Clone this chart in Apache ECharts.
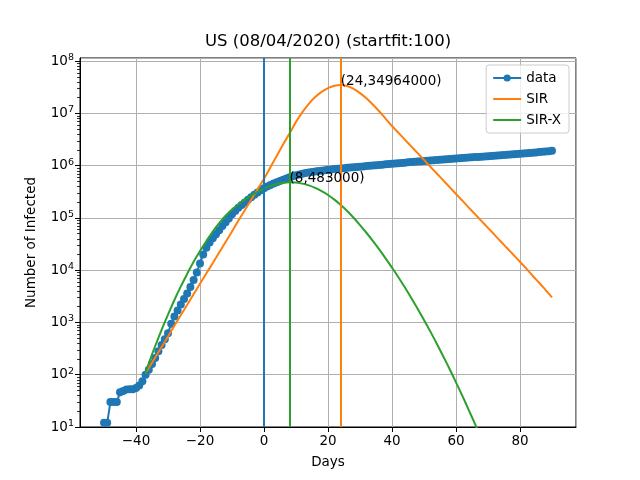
<!DOCTYPE html>
<html>
<head>
<meta charset="utf-8">
<script src="https://cdn.jsdelivr.net/npm/echarts@6/dist/echarts.min.js"></script>
<style>
  html, body { margin: 0; padding: 0; background: #fff; }
  #chart { width: 640px; height: 480px; }
</style>
</head>
<body>
<div id="chart"></div>
<script>
// 观测数据：从第 -50 天开始，每天一个点
const dataStartDay = -50
const infected = [
    12, 12, 30, 30, 30, 46, 49, 52, 53, 53,
    56, 62, 75, 100, 125, 160, 210, 280, 370, 480,
    620, 950, 1300, 1700, 2200, 2800, 3600, 4800, 6500, 9000,
    13500, 20000, 27000, 34000, 41000, 49000, 58000, 70000, 83000, 98000,
    118000, 136000, 156000, 176000, 198000, 222000, 248000, 278000, 308000, 340000,
    372000, 400000, 428000, 455000, 482000, 510000, 540000, 570000, 600000, 628000,
    655000, 680000, 702000, 722000, 740000, 757000, 773000, 788000, 803000, 818000,
    832000, 846000, 860000, 873000, 886000, 898000, 910000, 922000, 934000, 946000,
    958000, 970000, 982000, 995000, 1008000, 1021000, 1034000, 1047000, 1060000, 1074000,
    1088000, 1102000, 1116000, 1130000, 1144000, 1158000, 1172000, 1186000, 1200000, 1214000,
    1228000, 1242000, 1256000, 1270000, 1284000, 1298000, 1312000, 1326000, 1340000, 1354000,
    1369000, 1384000, 1399000, 1414000, 1429000, 1444000, 1459000, 1474000, 1490000, 1506000,
    1522000, 1538000, 1554000, 1570000, 1587000, 1604000, 1621000, 1638000, 1656000, 1674000,
    1693000, 1712000, 1732000, 1753000, 1775000, 1798000, 1822000, 1847000, 1873000, 1900000,
    1930000
]

// 拟合曲线的取样天数
const fitDays = [
    -37, -36, -34, -32, -30, -28, -26, -24, -22, -20,
    -18, -16, -14, -12, -10, -8, -6, -4, -2, 0,
    2, 4, 6, 8, 10, 12, 14, 16, 18, 20,
    22, 24, 26, 28, 30, 32, 34, 36, 38, 40,
    42, 44, 46, 48, 50, 52, 54, 56, 58, 60,
    62, 64, 66, 68, 70, 72, 74, 76, 78, 80,
    82, 84, 86, 88, 90
]
const sirValues = [
    107, 135, 214, 339, 537, 871, 1380, 2190, 3470, 5500,
    8710, 13800, 21900, 34700, 55000, 89100, 141000, 224000, 355000, 562000,
    933000, 1550000, 2570000, 4170000, 6890000, 10600000, 15300000, 20600000, 25900000, 30600000,
    33900000, 34964000, 33500000, 29500000, 24500000, 19500000, 14800000, 11000000, 7940000, 5750000,
    4270000, 3160000, 2340000, 1740000, 1290000, 955000, 708000, 525000, 389000, 288000,
    214000, 158000, 117000, 87100, 64600, 47900, 35500, 26300, 19500, 14500,
    10700, 7760, 5750, 4170, 3020
]
const sirxValues = [
    107, 166, 355, 724, 1410, 2690, 4900, 8510, 14500, 23400,
    36300, 55000, 79400, 110000, 145000, 182000, 224000, 269000, 316000, 363000,
    407000, 447000, 473000, 483000, 476000, 454000, 420000, 376000, 327000, 275000,
    224000, 177000, 136000, 101000, 73100, 52100, 36500, 25100, 16900, 11200,
    7350, 4710, 2960, 1840, 1120, 668, 393, 226, 129, 71.6,
    39.3, 21.1, 11.2, 5.8, 2.97, 1.49, 0.73, 0.36, 0.17, 0.079,
    0.036, 0.016, 0.0073, 0.0032, 0.0014
]

// 竖线与标注
const todayDay = 0
const sirPeak = [24, 34964000]
const sirxPeak = [8, 483000]

// 对数轴的次刻度 (2..9 × 10^n)
const minorTickValues = []
for (let e = 1; e <= 7; e++) {
    for (let m = 2; m <= 9; m++) minorTickValues.push(m * Math.pow(10, e))
}

const BLUE = '#1f77b4', ORANGE = '#ff7f0e', GREEN = '#2ca02c'
const FONT = 'DejaVu Sans'
const Y_MIN = 10, Y_MAX = 1.15e8

const pairs = function (xs, ys) {
    return ys.map(function (v, i) { return [xs[i], v] })
}
const dataPoints = infected.map(function (v, i) { return [dataStartDay + i, v] })

const vline = function (x, color) {
    return {
        silent: true,
        symbol: 'none',
        label: { show: false },
        lineStyle: { color: color, width: 2, type: 'solid' },
        data: [{ xAxis: x }],
        z: 5
    }
}
const peakLabel = function (p) {
    return {
        symbol: 'circle',
        symbolSize: 0,
        silent: true,
        label: {
            show: true,
            position: [0, 0],
            align: 'left',
            verticalAlign: 'bottom',
            offset: [0, 3],
            color: '#000',
            fontFamily: FONT,
            fontSize: 13.5,
            formatter: '(' + p[0] + ',' + p[1] + ')'
        },
        data: [{ coord: p }]
    }
}

let myChart = echarts.init(document.getElementById('chart'), null, { renderer: 'canvas' })
let option = {
    animation: false,
    backgroundColor: '#fff',
    title: {
        text: 'US (08/04/2020) (startfit:100)',
        left: 205,
        top: 33,
        padding: 0,
        textStyle: { fontFamily: FONT, fontSize: 16.5, fontWeight: 'normal', color: '#000' }
    },
    grid: {
        left: 80, right: 64, top: 58, bottom: 53,
        show: true, borderColor: '#000', borderWidth: 1
    },
    legend: {
        orient: 'vertical',
        right: 71,
        top: 65,
        padding: [6, 8, 6, 6],
        itemGap: 7,
        itemWidth: 28,
        itemHeight: 9,
        backgroundColor: 'rgba(255,255,255,0.8)',
        borderColor: '#cccccc',
        borderWidth: 1,
        borderRadius: 3,
        textStyle: { fontFamily: FONT, fontSize: 13.5, color: '#000' },
        data: [
            'data',
            { name: 'SIR', itemStyle: { opacity: 0 } },
            { name: 'SIR-X', itemStyle: { opacity: 0 } }
        ]
    },
    xAxis: {
        type: 'value',
        min: -57.5,
        max: 97.5,
        splitNumber: 8,
        name: 'Days',
        nameLocation: 'middle',
        nameGap: 28,
        nameTextStyle: { fontFamily: FONT, fontSize: 13.5, color: '#000' },
        axisLine: { onZero: false, lineStyle: { color: '#000', width: 1 } },
        axisTick: { show: true, length: 5, lineStyle: { color: '#000' } },
        axisLabel: {
            fontFamily: FONT, fontSize: 13.5, color: '#000', margin: 7,
            showMinLabel: false, showMaxLabel: false,
            formatter: function (v) {
                return v % 20 !== 0 ? '' : String(v).replace('-', '\u2212')
            }
        },
        splitLine: { show: true, lineStyle: { color: '#b0b0b0', width: 1 } }
    },
    yAxis: [
        {
            type: 'log',
            logBase: 10,
            min: Y_MIN,
            max: Y_MAX,
            interval: 1,
            name: 'Number of Infected',
            nameLocation: 'middle',
            nameGap: 42,
            nameTextStyle: { fontFamily: FONT, fontSize: 13.5, color: '#000' },
            axisLine: { onZero: false, lineStyle: { color: '#000', width: 1 } },
            axisTick: { show: true, length: 5, lineStyle: { color: '#000' } },
            axisLabel: {
                color: '#000', margin: 6,
                showMaxLabel: false,
                formatter: function (v) {
                    let e = Math.round(Math.log10(v))
                    if (Math.abs(Math.log10(v) - e) > 1e-6) return ''
                    return '{b|10}{s|' + e + '}'
                },
                rich: {
                    b: { fontFamily: FONT, fontSize: 13.5, color: '#000' },
                    s: { fontFamily: FONT, fontSize: 9.5, color: '#000', verticalAlign: 'top', padding: [0, 0, 7, 0] }
                }
            },
            splitLine: { show: true, lineStyle: { color: '#b0b0b0', width: 1 } }
        },
        {
            // 只用来画次刻度
            type: 'log',
            logBase: 10,
            min: Y_MIN,
            max: Y_MAX,
            position: 'left',
            offset: 0,
            axisLine: { show: false, onZero: false },
            axisTick: { show: true, length: 3, customValues: minorTickValues, lineStyle: { color: '#000', width: 0.8 } },
            axisLabel: { show: false },
            splitLine: { show: false }
        }
    ],
    series: [
        {
            name: 'data',
            type: 'line',
            data: dataPoints,
            symbol: 'circle',
            symbolSize: 8,
            itemStyle: { color: BLUE },
            lineStyle: { color: BLUE, width: 2 },
            markLine: vline(todayDay, BLUE),
            z: 2
        },
        {
            name: 'SIR',
            type: 'line',
            data: pairs(fitDays, sirValues),
            symbol: 'none',
            smooth: 0.35,
            itemStyle: { color: ORANGE },
            lineStyle: { color: ORANGE, width: 2 },
            markLine: vline(sirPeak[0], ORANGE),
            markPoint: peakLabel(sirPeak),
            z: 3
        },
        {
            name: 'SIR-X',
            type: 'line',
            data: pairs(fitDays, sirxValues),
            symbol: 'none',
            smooth: 0.35,
            itemStyle: { color: GREEN },
            lineStyle: { color: GREEN, width: 2 },
            markLine: vline(sirxPeak[0], GREEN),
            markPoint: peakLabel(sirxPeak),
            z: 4
        }
    ]
}
myChart.setOption(option)
</script>
</body>
</html>
